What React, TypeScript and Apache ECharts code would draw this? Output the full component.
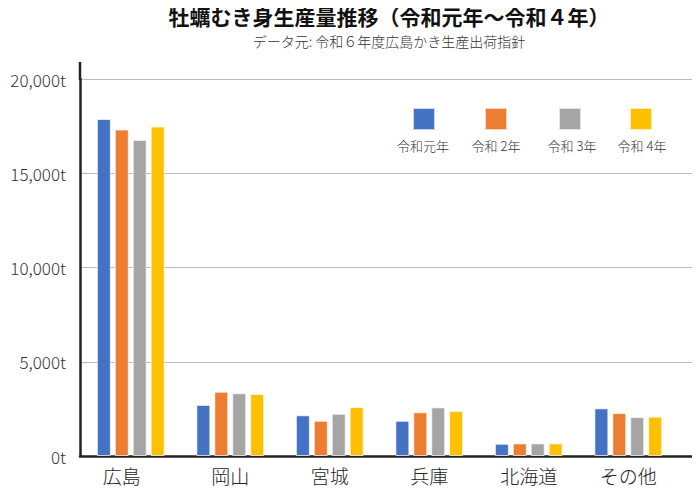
import { useEffect, useRef } from 'react';
import * as echarts from 'echarts';

const categories = ['広島', '岡山', '宮城', '兵庫', '北海道', 'その他'];
const seriesNames = ['令和元年', '令和 2年', '令和 3年', '令和 4年'];
const reiwa1 = [17880, 2710, 2160, 1870, 650, 2530];
const reiwa2 = [17320, 3410, 1870, 2320, 670, 2280];
const reiwa3 = [16770, 3330, 2240, 2580, 670, 2070];
const reiwa4 = [17480, 3290, 2600, 2390, 670, 2090];
const yTicks = [0, 5000, 10000, 15000, 20000];

const colors = ['#4472C4', '#ED7D31', '#A5A5A5', '#FFC000'];
const font = '"Noto Sans CJK JP", "Noto Sans", sans-serif';

const App = () => {
    const chartRef = useRef(null);

    useEffect(() => {
        const myChart = echarts.init(chartRef.current, null, { renderer: 'svg' });
        const values = [reiwa1, reiwa2, reiwa3, reiwa4];
        // icon left edges of the four legend squares
        const legendLeft = [412, 484, 558, 629];
        const labelShift = [11, 12, 14, 13];
        const yMin = yTicks[0];
        const yMax = yTicks[yTicks.length - 1];
        const yStep = yTicks[1] - yTicks[0];

        myChart.setOption({
            animation: false,
            color: colors,
            textStyle: { fontFamily: font },
            title: {
                left: 384,
                textAlign: 'center',
                top: 0,
                text: '牡蠣むき身生産量推移（令和元年〜令和４年）',
                textStyle: { fontSize: 21, fontWeight: 'bold', color: '#111', fontFamily: font },
                subtext: 'データ元: 令和６年度広島かき生産出荷指針',
                subtextStyle: { fontSize: 14, color: '#333', fontFamily: font, fontWeight: 300 },
                itemGap: 8,
            },
            legend: seriesNames.map((name, i) => ({
                data: [name],
                left: legendLeft[i] - 5,
                top: 102,
                icon: 'rect',
                itemWidth: 22,
                itemHeight: 22,
                formatter: () => '',
                selectedMode: false,
            })),
            graphic: [
                ...seriesNames.map((name, i) => ({
                    type: 'text',
                    x: legendLeft[i] + labelShift[i],
                    y: 145,
                    style: {
                        text: name,
                        fontSize: 13,
                        fontWeight: 300,
                        fontFamily: font,
                        fill: '#333',
                        align: 'center',
                        verticalAlign: 'middle',
                    },
                })),
                // the y axis line runs a little above the top gridline
                {
                    type: 'line',
                    shape: { x1: 80, y1: 62, x2: 80, y2: 80 },
                    style: { stroke: '#222', lineWidth: 2.5 },
                },
            ],
            // grid 0: full-width frame with gridlines; grid 1: the bars (narrower on the right)
            grid: [
                { left: 80, right: 3, top: 79, bottom: 44 },
                { left: 81, right: 22, top: 79, bottom: 44 },
            ],
            xAxis: [
                {
                    type: 'category',
                    gridIndex: 0,
                    data: categories,
                    axisLine: { lineStyle: { color: '#222', width: 2.5 } },
                    axisTick: { show: false },
                    axisLabel: { show: false },
                },
                {
                    type: 'category',
                    gridIndex: 1,
                    data: categories,
                    axisLine: { show: false },
                    axisTick: { show: false },
                    axisLabel: {
                        interval: 0,
                        fontSize: 19,
                        fontWeight: 300,
                        color: '#222',
                        margin: 10,
                        fontFamily: font,
                        formatter: (v: string, i: number) => (i === 0 ? `{shift|${v}}` : v),
                        rich: {
                            shift: {
                                fontSize: 19,
                                fontWeight: 300,
                                color: '#222',
                                fontFamily: font,
                                padding: [0, 18, 0, 0],
                            },
                        },
                    },
                },
            ],
            yAxis: [
                {
                    type: 'value',
                    gridIndex: 0,
                    min: yMin,
                    max: yMax,
                    interval: yStep,
                    axisLine: { show: true, lineStyle: { color: '#222', width: 2.5 } },
                    axisTick: { show: false },
                    splitLine: { lineStyle: { color: '#bbb', width: 1 } },
                    axisLabel: {
                        fontSize: 17,
                        fontWeight: 300,
                        color: '#333',
                        margin: 14,
                        fontFamily: font,
                        formatter: (v: number) => v.toLocaleString('en-US') + 't',
                    },
                },
                {
                    type: 'value',
                    gridIndex: 1,
                    min: yMin,
                    max: yMax,
                    interval: yStep,
                    show: false,
                    splitLine: { show: false },
                },
            ],
            series: seriesNames.map((name, i) => ({
                name,
                type: 'bar',
                xAxisIndex: 1,
                yAxisIndex: 1,
                data: values[i],
                barWidth: 14,
                barGap: '28%',
                itemStyle: { borderColor: 'rgba(255,255,255,0.7)', borderWidth: 1 },
            })),
        });

        return () => {
            myChart.dispose();
        };
    }, []);

    return <div ref={chartRef} style={{ width: '700px', height: '500px', margin: '-8px' }} />;
};

export default App;
